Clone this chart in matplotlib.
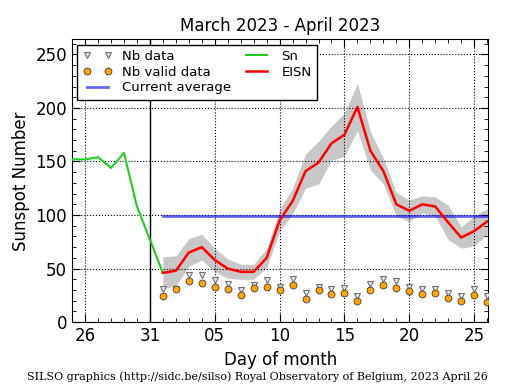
import datetime as dt
import matplotlib
matplotlib.use("Agg")
import matplotlib.pyplot as plt
import matplotlib.dates as mdates
from matplotlib.ticker import MultipleLocator, FixedLocator

# daily values
sn_dates = [dt.date(2023, 3, 25) + dt.timedelta(days=i) for i in range(8)]
sn_values = [152, 152, 154, 144, 158, 108, 77, 46]

days = [dt.date(2023, 4, 1) + dt.timedelta(days=i) for i in range(26)]
eisn = [46, 48, 65, 70, 58, 50, 47, 47, 60, 95, 113, 141, 149, 167, 175, 201,
        160, 141, 110, 104, 110, 108, 93, 79, 85, 94]
eisn_err = [15, 14, 13, 12, 11, 9, 7, 7, 9, 10, 12, 16, 20, 16, 20, 22,
            18, 12, 11, 10, 8, 9, 16, 10, 14, 12]
nb_data = [31, 31, 44, 44, 39, 36, 30, 35, 39, 33, 40, 27, 33, 31, 32, 24,
           36, 40, 38, 33, 31, 31, 27, 24, 31, 24]
nb_valid = [24, 31, 38, 37, 33, 31, 25, 32, 33, 30, 35, 22, 30, 26, 27, 20,
            30, 35, 32, 29, 26, 27, 23, 20, 25, 19]
current_avg = 99.5

x_ticks = [dt.date(2023, 3, 26), dt.date(2023, 3, 31), dt.date(2023, 4, 5),
           dt.date(2023, 4, 10), dt.date(2023, 4, 15), dt.date(2023, 4, 20),
           dt.date(2023, 4, 25)]
month_split = dt.date(2023, 3, 31)

fig = plt.figure(figsize=(5.15, 3.9), dpi=100)
ax = fig.add_axes([0.140, 0.174, 0.808, 0.725])

lower = [e - s for e, s in zip(eisn, eisn_err)]
upper = [e + s for e, s in zip(eisn, eisn_err)]
ax.fill_between(days, lower, upper, color="#c8c8c8", lw=0, zorder=1)

ax.plot(days, nb_data, "v", ls="none", ms=4, mfc="#e8e8e8", mec="#707070",
        mew=0.8, label="Nb data", zorder=3)
ax.plot(days, nb_valid, "o", ls="none", ms=5, mfc="orange", mec="#404040",
        mew=0.6, label="Nb valid data", zorder=4)
ax.plot([days[0], days[-1]], [current_avg, current_avg], color="blue",
        alpha=0.6, lw=2, label="Current average", zorder=2)
ax.plot(sn_dates, sn_values, color="#22cc22", lw=1.5, label="Sn", zorder=3)
ax.plot(days, eisn, color="red", lw=1.8, label="EISN", zorder=3)
ax.axvline(month_split, color="black", lw=1, zorder=2)

ax.set_xlim(dt.date(2023, 3, 25), dt.datetime(2023, 4, 26, 2))
ax.set_ylim(0, 264)
ax.xaxis.set_major_locator(FixedLocator(mdates.date2num(x_ticks)))
ax.xaxis.set_minor_locator(mdates.DayLocator())
ax.xaxis.set_major_formatter(mdates.DateFormatter("%d"))
ax.yaxis.set_major_locator(MultipleLocator(50))
ax.yaxis.set_minor_locator(MultipleLocator(10))
ax.tick_params(which="both", direction="in", top=True, right=True, labelsize=12)
ax.tick_params(which="major", length=6)
ax.tick_params(which="minor", length=3)
ax.grid(True, which="major", color="black", ls=":", lw=0.8)

ax.set_title("March 2023 - April 2023", fontsize=12)
ax.set_xlabel("Day of month", fontsize=12)
ax.set_ylabel("Sunspot Number", fontsize=12)

leg = ax.legend(loc="upper left", ncol=2, numpoints=2, fontsize=9.5,
                fancybox=False, edgecolor="black", framealpha=1,
                borderaxespad=0.4, columnspacing=0.8, handlelength=2.2,
                labelspacing=0.2)
leg.get_frame().set_linewidth(1)

fig.text(0.5, 0.02, "SILSO graphics (http://sidc.be/silso) Royal Observatory of Belgium, 2023 April 26",
         ha="center", va="bottom", fontsize=8, family="DejaVu Serif")

fig.savefig("out.png", dpi=100)
